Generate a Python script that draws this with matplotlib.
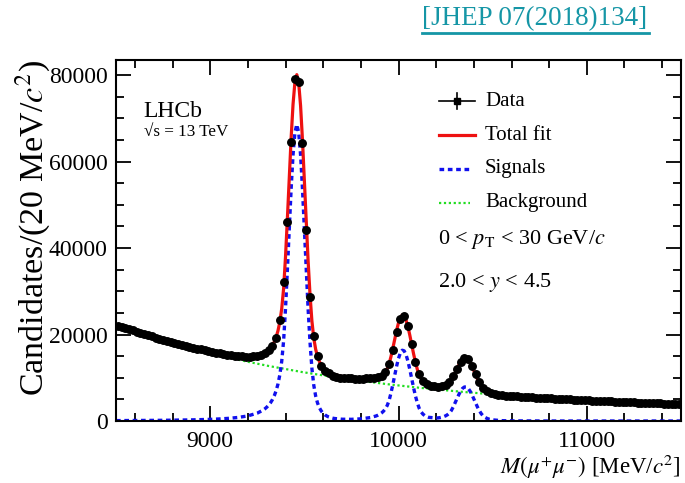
import numpy as np
import matplotlib
matplotlib.use('Agg')
import matplotlib.pyplot as plt
from matplotlib.ticker import MultipleLocator

plt.rcParams['font.family'] = ['Liberation Serif', 'DejaVu Serif']
plt.rcParams['mathtext.fontset'] = 'stix'

# histogram binning, 20 MeV bins
mass_lo, mass_hi, bin_width = 8500, 11500, 20

# candidates per bin
data_counts = [
    22050, 21840, 21540, 21250, 20950, 20670, 20390, 20120, 19850, 19570,
    19310, 19060, 18800, 18560, 18310, 18070, 17840, 17610, 17390, 17170,
    16960, 16750, 16540, 16350, 16160, 15980, 15810, 15640, 15490, 15340,
    15210, 15100, 15000, 14940, 14900, 14900, 14950, 15070, 15330, 15710,
    16330, 17350, 19300, 23400, 32200, 46000, 64600, 79200, 78500, 64300,
    44200, 28600, 19700, 15000, 12700, 11600, 11000, 10500, 10200, 10050,
    9950, 9900, 9850, 9820, 9800, 9810, 9850, 9900, 10000, 10150,
    10500, 11300, 13200, 16500, 20600, 23700, 24300, 21900, 17700, 13700,
    10800, 9300, 8600, 8200, 8000, 7900, 8050, 8350, 9000, 10300,
    12000, 13700, 14500, 14300, 12800, 10800, 9000, 7700, 6950, 6550,
    6300, 6120, 5980, 5860, 5800, 5745, 5690, 5635, 5580, 5527,
    5475, 5423, 5372, 5322, 5272, 5223, 5175, 5127, 5080, 5034,
    4988, 4943, 4898, 4854, 4811, 4768, 4726, 4684, 4643, 4602,
    4562, 4522, 4483, 4444, 4406, 4368, 4331, 4294, 4258, 4222,
    4187, 4152, 4118, 4084, 4050, 4017, 3984, 3952, 3920, 3888,
]
data_mass = np.arange(mass_lo + bin_width / 2, mass_hi, bin_width)

# fit curves, tabulated
fit_mass = [
    8500, 8550, 8600, 8650, 8700, 8750, 8800, 8850, 8900, 8950,
    9000, 9050, 9100, 9150, 9200, 9250, 9280, 9290, 9300, 9310,
    9320, 9330, 9340, 9350, 9360, 9370, 9380, 9390, 9400, 9410,
    9420, 9430, 9440, 9450, 9460, 9470, 9480, 9490, 9500, 9510,
    9520, 9530, 9540, 9550, 9560, 9570, 9580, 9590, 9600, 9610,
    9620, 9630, 9640, 9650, 9660, 9700, 9750, 9800, 9850, 9880,
    9890, 9900, 9910, 9920, 9930, 9940, 9950, 9960, 9970, 9980,
    9990, 10000, 10010, 10020, 10030, 10040, 10050, 10060, 10070, 10080,
    10090, 10100, 10110, 10120, 10130, 10140, 10150, 10160, 10200, 10210,
    10220, 10230, 10240, 10250, 10260, 10270, 10280, 10290, 10300, 10310,
    10320, 10330, 10340, 10350, 10360, 10370, 10380, 10390, 10400, 10410,
    10420, 10430, 10440, 10450, 10460, 10470, 10480, 10500, 10550, 10600,
    10650, 10700, 10750, 10800, 10850, 10900, 10950, 11000, 11050, 11100,
    11150, 11200, 11250, 11300, 11350, 11400, 11450, 11500,
]
background = [
    22210, 21440, 20700, 19990, 19300, 18640, 18000, 17390, 16800, 16230,
    15690, 15160, 14650, 14170, 13700, 13250, 12990, 12900, 12820, 12730,
    12650, 12560, 12480, 12400, 12320, 12240, 12160, 12080, 12000, 11920,
    11840, 11760, 11690, 11610, 11540, 11460, 11390, 11310, 11240, 11170,
    11090, 11020, 10950, 10880, 10810, 10740, 10670, 10610, 10540, 10470,
    10400, 10340, 10270, 10210, 10140, 9890, 9580, 9290, 9010, 8840,
    8790, 8730, 8680, 8630, 8580, 8520, 8470, 8420, 8370, 8320,
    8270, 8220, 8170, 8120, 8070, 8030, 7980, 7930, 7880, 7840,
    7790, 7740, 7700, 7650, 7610, 7560, 7520, 7480, 7310, 7260,
    7220, 7180, 7140, 7100, 7060, 7020, 6980, 6940, 6900, 6860,
    6820, 6780, 6740, 6710, 6670, 6630, 6600, 6560, 6520, 6490,
    6450, 6420, 6380, 6350, 6310, 6280, 6240, 6170, 6010, 5850,
    5700, 5560, 5420, 5280, 5150, 5030, 4910, 4790, 4680, 4580,
    4470, 4380, 4280, 4190, 4110, 4020, 3940, 3870,
]
signals = [
    90, 100, 110, 130, 140, 160, 190, 220, 260, 310,
    380, 480, 620, 830, 1180, 1820, 2490, 2800, 3180, 3630,
    4190, 4900, 5800, 6970, 8540, 10710, 13840, 18580, 25940, 34910,
    44510, 53770, 61550, 66750, 68580, 66750, 61560, 53790, 44530, 34930,
    25970, 18310, 12280, 8320, 5810, 4170, 3070, 2310, 1780, 1400,
    1130, 920, 770, 660, 580, 410, 390, 500, 790, 1150,
    1330, 1560, 1860, 2260, 2800, 3580, 4740, 6460, 8470, 10610,
    12690, 14480, 15760, 16370, 16220, 15340, 13840, 11930, 9810, 7710,
    5800, 4190, 2930, 2110, 1580, 1230, 1000, 850, 690, 720,
    780, 880, 1010, 1190, 1450, 1820, 2380, 3200, 4130, 5120,
    6080, 6920, 7540, 7870, 7870, 7540, 6910, 6070, 5100, 4110,
    3160, 2340, 1650, 1150, 820, 600, 440, 260, 80, 30,
    20, 10, 0, 0, 0, 0, 0, 0, 0, 0,
    0, 0, 0, 0, 0, 0, 0, 0,
]
total_fit = [
    22300, 21540, 20810, 20120, 19440, 18800, 18190, 17610, 17060, 16540,
    16070, 15640, 15270, 15000, 14880, 15070, 15480, 15710, 15990, 16360,
    16840, 17460, 18280, 19370, 20860, 22950, 26000, 30650, 37940, 46830,
    56350, 65540, 73240, 78360, 80110, 78210, 72950, 65100, 55770, 46100,
    37070, 29330, 23230, 19200, 16620, 14920, 13750, 12920, 12320, 11870,
    11530, 11260, 11050, 10870, 10720, 10300, 9980, 9790, 9800, 9990,
    10120, 10300, 10540, 10890, 11380, 12100, 13210, 14880, 16840, 18930,
    20960, 22700, 23930, 24490, 24290, 23360, 21820, 19860, 17690, 15550,
    13600, 11930, 10630, 9760, 9190, 8800, 8520, 8330, 8000, 7990,
    8010, 8060, 8150, 8290, 8510, 8840, 9360, 10130, 11030, 11980,
    12900, 13700, 14290, 14580, 14540, 14170, 13500, 12620, 11620, 10590,
    9620, 8750, 8030, 7490, 7130, 6870, 6680, 6430, 6090, 5890,
    5720, 5560, 5420, 5280, 5150, 5030, 4910, 4790, 4680, 4580,
    4470, 4380, 4280, 4190, 4110, 4020, 3940, 3870,
]

red = '#ee1111'
blue = '#1010ee'
green = '#22dd22'
teal = '#1596a6'

fig = plt.figure(figsize=(6.85, 4.83), dpi=100)
ax = fig.add_axes([116 / 685, 62 / 483, 565 / 685, 361 / 483])

ax.plot(fit_mass, background, color=green, lw=1.6, dashes=(1, 1.2), zorder=1)
ax.plot(fit_mass, signals, color=blue, lw=2.4, dashes=(1.4, 1.1), zorder=2)
ax.plot(fit_mass, total_fit, color=red, lw=2.3, zorder=3)
ax.plot(data_mass, data_counts, 'o', color='k', ms=5.4, zorder=4)

ax.set_xlim(mass_lo, mass_hi)
ax.set_ylim(0, 83500)
ax.xaxis.set_major_locator(MultipleLocator(1000))
ax.xaxis.set_minor_locator(MultipleLocator(200))
ax.yaxis.set_major_locator(MultipleLocator(20000))
ax.yaxis.set_minor_locator(MultipleLocator(5000))
ax.tick_params(which='both', direction='in', top=True, right=True,
               width=1.3, labelsize=17)
ax.tick_params(which='major', length=11)
ax.tick_params(which='minor', length=6)
ax.tick_params(axis='x', pad=7)
ax.tick_params(axis='y', pad=6)
for s in ax.spines.values():
    s.set_linewidth(1.5)

ax.set_xlabel(r'$M(\mu^{+}\mu^{-})$ [MeV/$c^{2}$]', fontsize=16.5,
              ha='right', va='baseline')
ax.xaxis.set_label_coords(1.0, -0.147)
ax.set_ylabel(r'Candidates/(20 MeV/$c^{2}$)', fontsize=24.5,
              ha='right', va='center')
ax.yaxis.set_label_coords(-0.148, 1.0)


def fx(x):
    return x / 685


def fy(y):
    return 1 - y / 483


fig.text(fx(143), fy(117), 'LHCb', fontsize=17, va='baseline')
fig.text(fx(144), fy(136), '\u221As = 13 TeV', fontsize=12.3, va='baseline')

# legend, drawn by hand
fig.lines.append(plt.Line2D([fx(439), fx(475)], [fy(101), fy(101)],
                            color='k', lw=1.2, transform=fig.transFigure))
fig.lines.append(plt.Line2D([fx(457), fx(457)], [fy(93), fy(109)],
                            color='k', lw=1.2, transform=fig.transFigure))
fig.lines.append(plt.Line2D([fx(457)], [fy(101)], marker='s', ms=4,
                            color='k', transform=fig.transFigure))
fig.lines.append(plt.Line2D([fx(439), fx(475)], [fy(135), fy(135)],
                            color=red, lw=2.3, transform=fig.transFigure))
fig.lines.append(plt.Line2D([fx(439), fx(470)], [fy(169), fy(169)],
                            color=blue, lw=2.4, dashes=(1.4, 1.1),
                            transform=fig.transFigure))
fig.lines.append(plt.Line2D([fx(439), fx(470)], [fy(203), fy(203)],
                            color=green, lw=1.6, dashes=(1, 1.2),
                            transform=fig.transFigure))
for yy, txt in [(101, 'Data'), (135, 'Total fit'), (169, 'Signals'),
                (203, 'Background')]:
    fig.text(fx(485), fy(yy), txt, fontsize=15, va='center')
fig.text(fx(438), fy(244), r'0 < $p_{\mathrm{T}}$ < 30 GeV/$c$', fontsize=16,
         va='baseline')
fig.text(fx(438), fy(287), r'2.0 < $y$ < 4.5', fontsize=16, va='baseline')

fig.text(fx(422), fy(19), '[JHEP 07(2018)134]', fontsize=19.5, color=teal,
         va='center')
fig.lines.append(plt.Line2D([fx(422), fx(649)], [fy(33), fy(33)],
                            color=teal, lw=2, transform=fig.transFigure))

fig.savefig('out.png', dpi=100)
